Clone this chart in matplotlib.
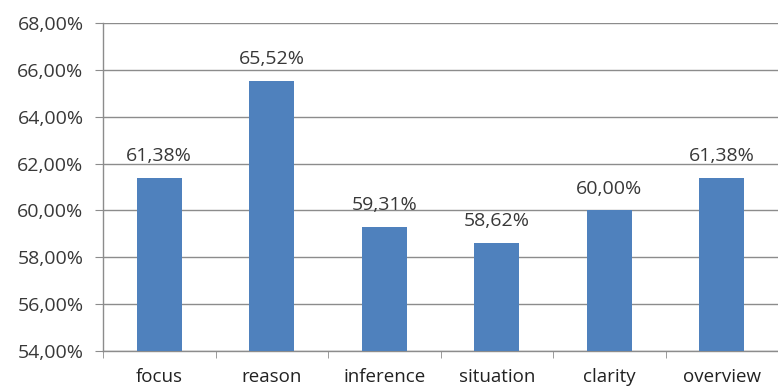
import matplotlib
matplotlib.use("Agg")
import matplotlib.pyplot as plt
import numpy as np

categories = ["focus", "reason", "inference", "situation", "clarity", "overview"]
scores = [61.38, 65.52, 59.31, 58.62, 60.00, 61.38]
y_ticks = [54, 56, 58, 60, 62, 64, 66, 68]

plt.rcParams['font.family'] = ['Open Sans', 'DejaVu Sans']

fig = plt.figure(figsize=(7.78, 3.89), dpi=100)
ax = fig.add_axes([103 / 778, 1 - 351 / 389, 1 - 103 / 778, (351 - 23) / 389])

x = np.arange(len(categories))
bars = ax.bar(x, scores, width=0.4, color="#4F81BD", zorder=3)

def pct(v):
    return f"{v:.2f}%".replace(".", ",")

for b, v in zip(bars, scores):
    ax.annotate(pct(v), (b.get_x() + b.get_width() / 2, v),
                xytext=(0, 12), textcoords="offset points",
                ha="center", va="baseline", fontsize=14, color="#383838")

ax.set_ylim(54, 68)
ax.set_xlim(-0.5, len(categories) - 0.5)
ax.set_yticks(y_ticks)
ax.set_yticklabels([pct(t) for t in y_ticks], fontsize=14, color="#383838")
ax.yaxis.grid(True, color="#8c8c8c", linewidth=1.0, zorder=0)

ax.set_xticks(x)
ax.set_xticklabels(categories, fontsize=13.5, color="#222222")
ax.tick_params(axis="x", which="major", length=0, pad=12)
ax.set_xticks(np.arange(len(categories) + 1) - 0.5, minor=True)
ax.tick_params(axis="x", which="minor", length=5, color="#8c8c8c", direction="out")
ax.tick_params(axis="y", length=6, color="#8c8c8c", pad=8)

for side in ["top", "right"]:
    ax.spines[side].set_visible(False)
for side in ["left", "bottom"]:
    ax.spines[side].set_color("#8c8c8c")
    ax.spines[side].set_linewidth(1.0)

fig.savefig("out.png", dpi=100)
